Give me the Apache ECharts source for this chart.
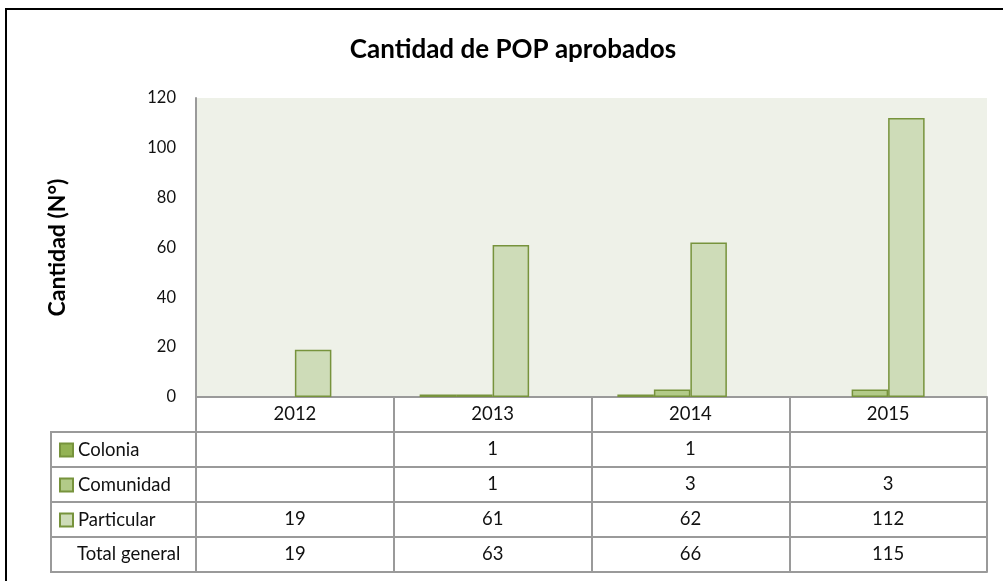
<!DOCTYPE html>
<html>
<head>
<meta charset="utf-8">
<script src="https://cdn.jsdelivr.net/npm/echarts@6/dist/echarts.min.js"></script>
<style>
html,body{margin:0;padding:0;background:#fff;}
#chart{width:1003px;height:581px;}
</style>
</head>
<body>
<div id="chart"></div>
<script>
// ---- data ----
var categories = ['2012', '2013', '2014', '2015'];
var colonia = [null, 1, 1, null];
var comunidad = [null, 1, 3, 3];
var particular = [19, 61, 62, 112];
var totalGeneral = [19, 63, 66, 115];
var seriesNames = ['Colonia', 'Comunidad', 'Particular', 'Total general'];
var yTicks = [0, 20, 40, 60, 80, 100, 120];

// ---- layout / style ----
var FONT = 'Lato';
var TFS = 18.5; // table font size
var GRID = {left: 196, right: 16, top: 98, bottom: 184};
var H = 581;
var axisBottom = H - GRID.bottom;      // 397
var ROW_H = 35;
var tableLeft = 51;
var lineColor = '#9a9a9a';
var barBorder = '#77933C';
var fills = ['#93B254', '#B2CA88', '#CEDCB8'];

function fmt(v) { return (v === null || v === undefined) ? '' : String(v); }

var rows = [colonia, comunidad, particular, totalGeneral];

var xAxes = [];
xAxes.push({
  type: 'category', data: categories, position: 'bottom', offset: 0,
  axisLine: {show: true, lineStyle: {color: lineColor, width: 2}},
  axisTick: {show: true, interval: 0, length: ROW_H * 5, lineStyle: {color: lineColor, width: 2}},
  axisLabel: {fontFamily: FONT, fontSize: TFS, color: '#111', margin: 8, interval: 0}
});
for (var k = 0; k < rows.length; k++) {
  (function (r) {
    xAxes.push({
      type: 'category', data: categories, position: 'bottom', offset: ROW_H * (k + 1),
      axisLine: {show: true, lineStyle: {color: lineColor, width: 2}},
      axisTick: {show: false},
      axisLabel: {fontFamily: FONT, fontSize: TFS, color: '#111', margin: 8, interval: 0,
        formatter: function (v, i) { return fmt(r[i]); }}
    });
  })(rows[k]);
}
xAxes.push({
  type: 'category', data: categories, position: 'bottom', offset: ROW_H * 5,
  axisLine: {show: true, lineStyle: {color: lineColor, width: 2}},
  axisTick: {show: false}, axisLabel: {show: false}
});

var series = [];
for (var s = 0; s < 3; s++) {
  series.push({
    name: seriesNames[s], type: 'bar', data: rows[s], barWidth: 36.5, barGap: '0%',
    itemStyle: {color: fills[s], borderColor: barBorder, borderWidth: 1.5},
    xAxisIndex: 0, yAxisIndex: 0
  });
}
series.push({
  name: seriesNames[3], type: 'bar', data: totalGeneral, barWidth: 36.5, barGap: '0%',
  itemStyle: {color: 'rgba(0,0,0,0)', borderWidth: 0}, silent: true,
  xAxisIndex: 0, yAxisIndex: 0
});

var tableTop = axisBottom + ROW_H;
var legends = [];
for (var j = 0; j < 3; j++) {
  legends.push({
    data: [seriesNames[j]], left: 59, top: tableTop + ROW_H * j + ROW_H / 2 - 9,
    padding: 0, itemWidth: 13, itemHeight: 13, icon: 'rect',
    textStyle: {fontFamily: FONT, fontSize: TFS, color: '#111', lineHeight: 18}
  });
}

var graphics = [
  {type: 'rect', shape: {x: 6, y: 9, width: 1100, height: 700},
   style: {fill: 'none', stroke: '#000', lineWidth: 2}, z: 100},
  {type: 'rect', shape: {x: tableLeft, y: tableTop, width: GRID.left - tableLeft, height: ROW_H * 4},
   style: {fill: 'none', stroke: lineColor, lineWidth: 2}}
];
for (var m = 1; m < 4; m++) {
  graphics.push({type: 'line', shape: {x1: tableLeft, y1: tableTop + ROW_H * m, x2: GRID.left, y2: tableTop + ROW_H * m},
    style: {stroke: lineColor, lineWidth: 2}});
}
graphics.push({type: 'text', x: 77, y: tableTop + ROW_H * 3 + ROW_H / 2,
  style: {text: seriesNames[3], fontFamily: FONT, fontSize: TFS, fill: '#111', verticalAlign: 'middle', align: 'left'}});

var chart = echarts.init(document.getElementById('chart'), null, {renderer: 'canvas'});
chart.setOption({
  animation: false,
  backgroundColor: '#fff',
  title: {text: 'Cantidad de POP aprobados', left: 508, top: 32, textAlign: 'center',
    textStyle: {fontFamily: FONT, fontSize: 26, fontWeight: 'bold', color: '#000'}},
  legend: legends,
  grid: {left: GRID.left, right: GRID.right, top: GRID.top, bottom: GRID.bottom,
    show: true, backgroundColor: '#EEF1E8', borderWidth: 0, containLabel: false},
  xAxis: xAxes,
  yAxis: {
    type: 'value', min: yTicks[0], max: yTicks[yTicks.length - 1], interval: 20,
    name: 'Cantidad (N°)', nameLocation: 'middle', nameGap: 127, nameRotate: 90,
    nameTextStyle: {fontFamily: FONT, fontSize: 23, fontWeight: 'bold', color: '#000'},
    axisLine: {show: true, lineStyle: {color: lineColor, width: 2}},
    axisTick: {show: false}, splitLine: {show: false},
    axisLabel: {fontFamily: FONT, fontSize: 16.5, color: '#111', margin: 20}
  },
  series: series,
  graphic: graphics
});
</script>
</body>
</html>
